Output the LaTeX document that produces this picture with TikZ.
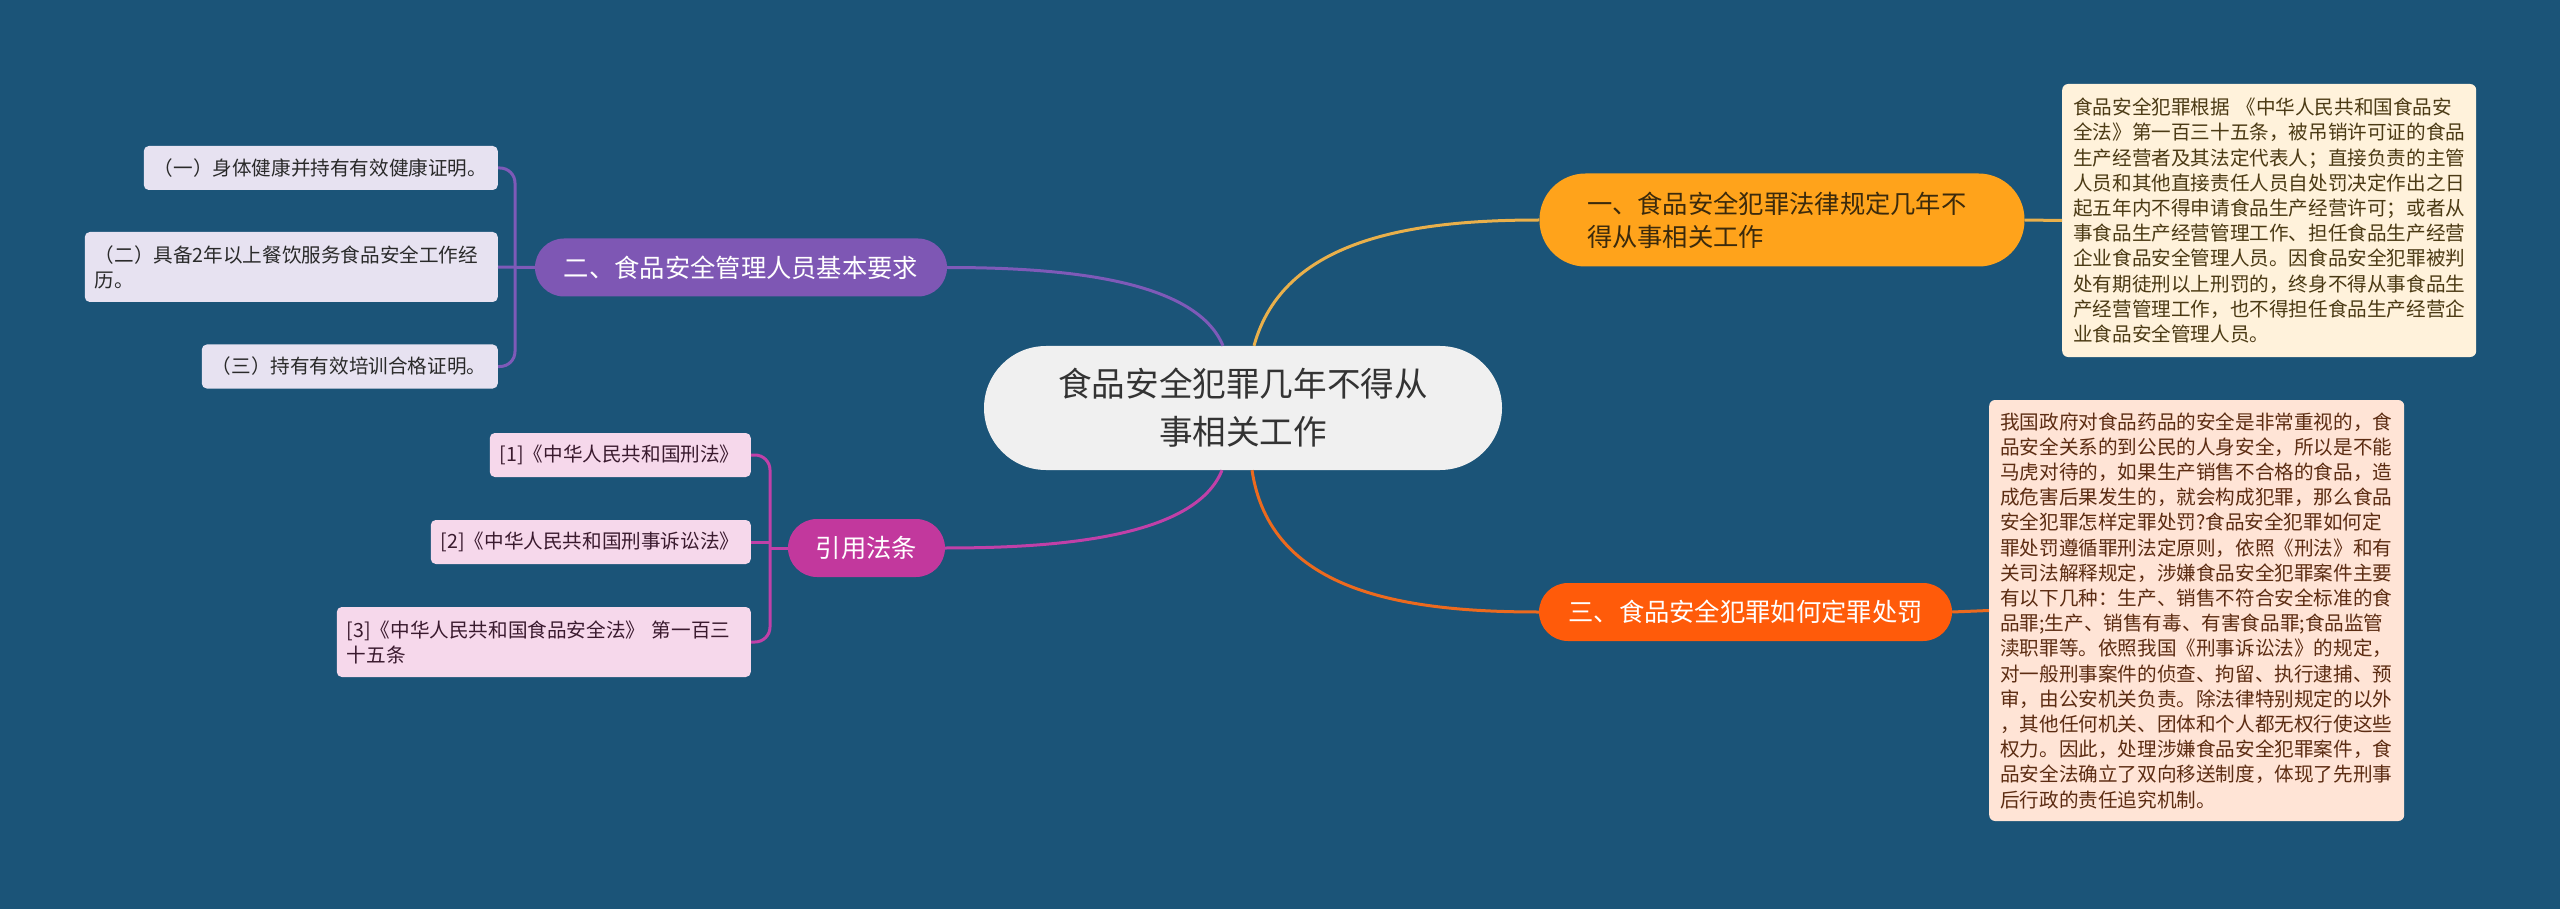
\documentclass[tikz,border=0pt]{standalone}
\usepackage{fontspec}
\setmainfont{Noto Sans CJK SC}
\usetikzlibrary{calc}

\definecolor{bgblue}{HTML}{1B5478}
\definecolor{rootgray}{HTML}{F0F0F0}
\definecolor{roottext}{HTML}{333333}
\definecolor{topicA}{HTML}{FFA31B}
\definecolor{topicAtext}{HTML}{3B2A0C}
\definecolor{topicB}{HTML}{7E57B4}
\definecolor{topicC}{HTML}{FF5B0A}
\definecolor{topicD}{HTML}{C2389D}
\definecolor{lineA}{HTML}{E9B04B}
\definecolor{lineB}{HTML}{7E5AB8}
\definecolor{lineC}{HTML}{EC6A1E}
\definecolor{lineD}{HTML}{C040A8}
\definecolor{noteA}{HTML}{FFF2DB}
\definecolor{noteAtext}{HTML}{4B3A14}
\definecolor{noteC}{HTML}{FFE4D6}
\definecolor{noteCtext}{HTML}{5C2C12}
\definecolor{leafB}{HTML}{E7E2F1}
\definecolor{leafBtext}{HTML}{2A2A2A}
\definecolor{leafD}{HTML}{F6D8EB}
\definecolor{leafDtext}{HTML}{3A1A2E}

\tikzset{
  rootnode/.style={fill=rootgray, text=roottext, rounded corners=62pt, minimum width=518pt,
    minimum height=124pt, inner sep=0pt, align=center, font=\fontsize{33.6}{48}\selectfont},
  topic/.style={rounded corners=29pt, minimum height=58pt, inner sep=0pt, align=left,
    font=\fontsize{25.3}{33}\selectfont},
  leaf/.style={rounded corners=5pt, inner xsep=10pt, inner ysep=0pt, minimum height=44pt,
    align=left, anchor=east, font=\fontsize{19.6}{25}\selectfont},
  note/.style={rounded corners=6pt, inner xsep=11pt, inner ysep=0pt, align=left, anchor=west,
    font=\fontsize{19.6}{25.2}\selectfont},
  link/.style={line width=3pt}
}

\begin{document}
\begin{tikzpicture}[x=1pt, y=-1pt]
		%%%%% START %%%%%
		
		\fill[bgblue] (0,0) rectangle (2560,909);
		\useasboundingbox (0,0) rectangle (2560,909);
		
		\node[rootnode] (root) at (1243,408) {食品安全犯罪几年不得从\\事相关工作};
		
		\node[topic, fill=topicA, text=topicAtext, minimum width=485pt, minimum height=93pt,
		  rounded corners=46pt, text width=390pt] (n1) at (1782,220) {一、食品安全犯罪法律规定几年不\\得从事相关工作};
		\node[topic, fill=topicB, text=white, minimum width=412pt] (n2) at (741,267.5) {二、食品安全管理人员基本要求};
		\node[topic, fill=topicC, text=white, minimum width=413pt] (n3) at (1745.5,612) {三、食品安全犯罪如何定罪处罚};
		\node[topic, fill=topicD, text=white, minimum width=157pt] (cite) at (866.5,548) {引用法条};
		
		\node[note, fill=noteA, text=noteAtext, text width=392pt, minimum height=273pt] (d1) at (2062,220.5)
		  {食品安全犯罪根据 《中华人民共和国食品安\\
		   全法》第一百三十五条，被吊销许可证的食品\\
		   生产经营者及其法定代表人；直接负责的主管\\
		   人员和其他直接责任人员自处罚决定作出之日\\
		   起五年内不得申请食品生产经营许可；或者从\\
		   事食品生产经营管理工作、担任食品生产经营\\
		   企业食品安全管理人员。因食品安全犯罪被判\\
		   处有期徒刑以上刑罚的，终身不得从事食品生\\
		   产经营管理工作，也不得担任食品生产经营企\\
		   业食品安全管理人员。};
		
		\node[note, fill=noteC, text=noteCtext, text width=393pt, minimum height=421pt] (d3) at (1989,610.5)
		  {我国政府对食品药品的安全是非常重视的，食\\
		   品安全关系的到公民的人身安全，所以是不能\\
		   马虎对待的，如果生产销售不合格的食品，造\\
		   成危害后果发生的，就会构成犯罪，那么食品\\
		   安全犯罪怎样定罪处罚?食品安全犯罪如何定\\
		   罪处罚遵循罪刑法定原则，依照《刑法》和有\\
		   关司法解释规定，涉嫌食品安全犯罪案件主要\\
		   有以下几种：生产、销售不符合安全标准的食\\
		   品罪;生产、销售有毒、有害食品罪;食品监管\\
		   渎职罪等。依照我国《刑事诉讼法》的规定，\\
		   对一般刑事案件的侦查、拘留、执行逮捕、预\\
		   审，由公安机关负责。除法律特别规定的以外\\
		   ，其他任何机关、团体和个人都无权行使这些\\
		   权力。因此，处理涉嫌食品安全犯罪案件，食\\
		   品安全法确立了双向移送制度，体现了先刑事\\
		   后行政的责任追究机制。};
		
		\node[leaf, fill=leafB, text=leafBtext, text width=334pt] (l2a) at (498,168) {（一）身体健康并持有有效健康证明。};
		\node[leaf, fill=leafB, text=leafBtext, text width=393pt, minimum height=70pt] (l2b) at (498,267) {（二）具备2年以上餐饮服务食品安全工作经\\历。};
		\node[leaf, fill=leafB, text=leafBtext, text width=276pt] (l2c) at (498,366.5) {（三）持有有效培训合格证明。};
		
		\node[leaf, fill=leafD, text=leafDtext, text width=241pt] (r1) at (751,455) {[1]《中华人民共和国刑法》};
		\node[leaf, fill=leafD, text=leafDtext, text width=300pt] (r2) at (751,542) {[2]《中华人民共和国刑事诉讼法》};
		\node[leaf, fill=leafD, text=leafDtext, text width=394pt, minimum height=70pt] (r3) at (751,642) {[3]《中华人民共和国食品安全法》 第一百三\\十五条};
		
		% root to topics
		\draw[link, lineA] ($(root.north)+(11,0)$) .. controls ($(root.north)+(40,-106)$) and ($(n1.west)+(-130,0)$) .. (n1.west);
		\draw[link, lineB] ($(root.north)+(-20,0)$) .. controls ($(root.north)+(-48,-68)$) and ($(n2.east)+(110,0)$) .. (n2.east);
		\draw[link, lineC] ($(root.south)+(9,0)$) .. controls ($(root.south)+(27,120)$) and ($(n3.west)+(-140,0)$) .. (n3.west);
		\draw[link, lineD] ($(root.south)+(-21,0)$) .. controls ($(root.south)+(-48,68)$) and ($(cite.east)+(110,0)$) .. (cite.east);
		
		% topics to details
		\draw[link, lineA] (n1.east) -- (d1.west);
		\draw[link, lineC] (n3.east) -- (d3.west);
		
		% brackets
		\coordinate (b2) at (515,267.5);
		\draw[link, lineB] (n2.west) -- (l2b.east);
		\draw[link, lineB, rounded corners=15pt] (l2a.east) -| (b2) |- (l2c.east);
		
		\coordinate (b3) at (770,548);
		\draw[link, lineD] (cite.west) -- (b3);
		\draw[link, lineD] (r2.east) -- (b3 |- r2.east);
		\draw[link, lineD, rounded corners=15pt] (r1.east) -| (b3) |- (r3.east);
		
		%%%%% END %%%%%
	\end{tikzpicture}
\end{document}
